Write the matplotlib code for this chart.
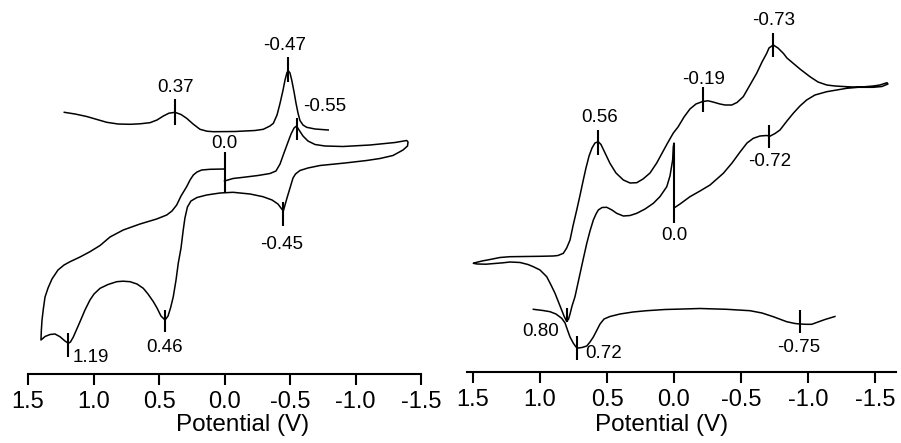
import matplotlib
matplotlib.use("Agg")
import matplotlib.pyplot as plt

plt.rcParams['font.family'] = ['Liberation Sans', 'DejaVu Sans']
plt.rcParams['axes.unicode_minus'] = False

# ---- left panel data: potential (V) / current (arb. units)
left_dpv_E = [1.223, 1.141, 1.052, 0.973, 0.899, 0.813, 0.721, 0.645, 0.569, 0.515,
              0.467, 0.424, 0.378, 0.332, 0.289, 0.240, 0.187, 0.134, 0.085, -0.080,
              -0.233, -0.296, -0.347, -0.373, -0.401, -0.424, -0.447, -0.462, -0.477,
              -0.487, -0.500, -0.513, -0.531, -0.546, -0.561, -0.576, -0.599, -0.627,
              -0.691, -0.792]
left_dpv_I = [261.7, 260, 257.5, 254.5, 251.7, 250, 249.7, 250.2, 251.3, 254,
              258, 260.8, 261.7, 259.5, 255.7, 250, 244.7, 242.8, 242.3, 242.5,
              243.5, 244.7, 248, 250.7, 259, 270.7, 284, 294, 301.5,
              303.3, 301, 294, 282, 270.7, 261, 253.5, 249, 246.7,
              245, 244]

left_cv_E = [0.0, -0.065, -0.144, -0.256, -0.347, -0.393, -0.424, -0.454, -0.485, -0.508,
             -0.531, -0.550, -0.569, -0.599, -0.637, -0.691, -0.767, -0.905, -1.111, -1.302,
             -1.391, -1.401, -1.397, -1.363, -1.286, -1.187, -1.085, -0.920, -0.729, -0.637,
             -0.576, -0.542, -0.523, -0.500, -0.477, -0.462, -0.449, -0.431, -0.408, -0.363,
             -0.294, -0.195, -0.065, 0.034, 0.136, 0.210, 0.256, 0.283, 0.302, 0.315,
             0.332, 0.353, 0.370, 0.391, 0.412, 0.431, 0.454, 0.485, 0.515, 0.543,
             0.584, 0.620, 0.668, 0.721, 0.775, 0.823, 0.889, 0.950, 0.996, 1.027,
             1.065, 1.103, 1.134, 1.154, 1.176, 1.192, 1.218, 1.256, 1.294, 1.332,
             1.370, 1.401, 1.398, 1.393, 1.382, 1.370, 1.347, 1.317, 1.271, 1.225,
             1.179, 1.103, 1.027, 0.950, 0.874, 0.773, 0.645, 0.518, 0.441, 0.401,
             0.365, 0.332, 0.289, 0.263, 0.238, 0.210, 0.174, 0.111, 0.0]
left_cv_I = [193, 195.5, 196.7, 198.5, 200.5, 203, 210, 221, 232, 240,
             246, 248, 244, 238, 233, 229.5, 228, 227.5, 229, 231.5,
             233.5, 232, 228, 224, 218.5, 215.5, 213.5, 211, 208.5, 206,
             203.5, 200, 196, 186, 176, 169, 163, 166, 170, 174,
             177.3, 180, 181.7, 181, 179, 176.5, 173, 167, 156, 144,
             126, 110.7, 94, 77.3, 66, 58, 54, 58, 66, 72.3,
             80, 85.7, 90, 92.3, 92.8, 92.3, 89.5, 85.7, 80, 74,
             64, 52.3, 43, 37, 32, 30.7, 33, 37.3, 40, 39.5,
             37.5, 34, 44, 54, 66, 77, 86, 95, 104, 109,
             112.3, 117, 122.3, 128.5, 137, 144, 150, 155, 159, 163,
             169, 178, 187.3, 194, 199, 202, 204, 204.7, 205]

# ---- right panel data
right_cv_E = [0.0, -0.045, -0.119, -0.194, -0.269, -0.368, -0.433, -0.493, -0.545, -0.592,
              -0.642, -0.692, -0.716, -0.754, -0.791, -0.843, -0.890, -0.940, -0.990, -1.052,
              -1.140, -1.289, -1.487, -1.537, -1.590, -1.597, -1.552, -1.487, -1.388, -1.289,
              -1.201, -1.140, -1.075, -1.015, -0.940, -0.890, -0.843, -0.816, -0.776, -0.741,
              -0.709, -0.692, -0.657, -0.617, -0.567, -0.517, -0.470, -0.431, -0.381, -0.343,
              -0.291, -0.254, -0.214, -0.164, -0.119, -0.075, -0.030, 0.005, 0.052, 0.104,
              0.129, 0.179, 0.231, 0.278, 0.328, 0.378, 0.433, 0.478, 0.515, 0.545,
              0.565, 0.590, 0.612, 0.634, 0.657, 0.677, 0.701, 0.726, 0.754, 0.776,
              0.801, 0.826, 0.866, 0.901, 1.000, 1.112, 1.224, 1.299, 1.373, 1.433,
              1.478, 1.498, 1.470, 1.403, 1.336, 1.276, 1.224, 1.149, 1.090, 1.050,
              1.000, 0.950, 0.918, 0.888, 0.862, 0.838, 0.821, 0.801, 0.787, 0.776,
              0.761, 0.739, 0.720, 0.701, 0.679, 0.651, 0.627, 0.602, 0.582, 0.565,
              0.537, 0.502, 0.463, 0.428, 0.378, 0.328, 0.278, 0.216, 0.154, 0.104,
              0.054, 0.030, 0.010, 0.005, 0.0]
right_cv_I = [164, 168, 175.3, 181, 187, 198.7, 209, 220, 229, 233.7,
              236, 236.5, 235.8, 238.5, 242, 251, 258.7, 266, 272, 277,
              280.3, 283.7, 286, 287, 289.3, 288, 285.5, 284.7, 284.7, 285.3,
              286, 287, 290, 295.3, 303, 308.7, 314, 318.7, 324, 327,
              324, 318.7, 310, 298.7, 287, 275.3, 269.5, 267, 267, 268,
              270, 271.2, 270.5, 268, 263, 255, 245, 239, 228, 215.3,
              209, 199, 193, 189.3, 189, 192, 199, 208.7, 219, 227.5,
              230.3, 229, 224, 216, 204, 192, 177, 162, 146, 132,
              124, 118.7, 116.5, 116, 115.7, 115.5, 115.3, 114.5, 112.5, 111,
              109.5, 108.7, 108, 107.8, 108.5, 109.2, 110, 109.5, 107.5, 105.3,
              102, 95.3, 87, 78.7, 70, 62, 56, 50.5, 53, 58,
              66, 75.3, 87, 98.7, 112, 128.7, 141, 152, 158, 162,
              164.5, 164.7, 162, 158.7, 156, 156.5, 158.7, 163, 168.7, 175.5,
              185.3, 196, 212, 225.3, 228.7]

right_dpv_E = [1.050, 0.978, 0.925, 0.881, 0.838, 0.813, 0.795, 0.776, 0.751, 0.731,
               0.714, 0.687, 0.651, 0.627, 0.602, 0.575, 0.552, 0.522, 0.478, 0.403,
               0.306, 0.204, 0.067, -0.069, -0.194, -0.393, -0.567, -0.657, -0.741, -0.841,
               -0.903, -0.940, -0.985, -1.028, -1.075, -1.127, -1.201]
right_dpv_I = [62.7, 61.5, 60.3, 58, 53.7, 49, 42, 35, 28.7, 25,
               24, 24.5, 26, 30, 35, 42, 48, 53, 55.5, 58,
               60, 61.3, 62.5, 63, 63.5, 62.7, 61.3, 59, 55.3, 50.3,
               48.5, 48, 47.7, 47.7, 50, 52.5, 55.5]

# ---- peak markers: potential, current span, label text
left_mark_E = [0.378, -0.482, -0.557, 0.0, -0.449, 0.454, 1.195]
left_mark_lo = [249, 292.3, 234, 182, 148, 42.3, 16.7]
left_mark_hi = [274.7, 317.3, 256, 222, 172, 64, 41.3]
left_labels = ['0.37', '-0.47', '-0.55', '0.0', '-0.45', '0.46', '1.19']

right_mark_E = [0.569, -0.214, -0.741, -0.711, 0.0, 0.801, 0.722, -0.940]
right_mark_lo = [217, 260.3, 315.3, 223.7, 148.7, 50.3, 12, 38.7]
right_mark_hi = [242, 284.7, 339.3, 247, 228.7, 63.7, 36, 62]
right_labels = ['0.56', '-0.19', '-0.73', '-0.72', '0.0', '0.80', '0.72', '-0.75']

# label anchor positions (E, I, horizontal alignment)
left_lab_pos = [(0.370, 286.7, 'center'), (-0.456, 329, 'center'), (-0.597, 267.3, 'left'),
                (0.0, 230.3, 'center'), (-0.437, 130, 'center'), (0.454, 26, 'center'),
                (1.159, 16, 'left')]
right_lab_pos = [(0.552, 254.7, 'center'), (-0.219, 292, 'center'), (-0.746, 351.3, 'center'),
                 (-0.716, 210.3, 'center'), (0.0, 137, 'center'), (0.856, 40.3, 'right'),
                 (0.664, 18.7, 'left'), (-0.928, 24.3, 'center')]

ticks = [1.5, 1.0, 0.5, 0.0, -0.5, -1.0, -1.5]
tick_labels = ['1.5', '1.0', '0.5', '0.0', '-0.5', '-1.0', '-1.5']

W, H = 901, 443
fig = plt.figure(figsize=(W / 100, H / 100), dpi=100)
ax1 = fig.add_axes([28 / W, 69 / H, 393 / W, 374 / H])
ax2 = fig.add_axes([467 / W, 71 / H, 429 / W, 372 / H])


def style(ax, xlim, ylim, lab_x, lab_y):
    ax.set_xlim(*xlim)
    ax.set_ylim(*ylim)
    for s in ['top', 'left', 'right']:
        ax.spines[s].set_visible(False)
    ax.spines['bottom'].set_linewidth(1.5)
    ax.set_yticks([])
    ax.set_xticks(ticks)
    ax.set_xticklabels(tick_labels)
    ax.tick_params(axis='x', direction='out', length=8, width=1.5,
                   labelsize=17, pad=4.5)
    ax.set_xlabel('Potential (V)', fontsize=17.5)
    ax.xaxis.set_label_coords(lab_x, lab_y)
    ax.patch.set_visible(False)


def marks(ax, E, lo, hi, labels, pos):
    ax.vlines(E, lo, hi, color='black', lw=1.5)
    for t, (x, y, ha) in zip(labels, pos):
        ax.text(x, y, t, ha=ha, va='center', fontsize=13.5)


ax1.plot(left_dpv_E, left_dpv_I, color='black', lw=1.1)
ax1.plot(left_cv_E, left_cv_I, color='black', lw=1.1)
marks(ax1, left_mark_E, left_mark_lo, left_mark_hi, left_labels, left_lab_pos)
style(ax1, (1.5, -1.5), (0, 374), 0.546, -0.108)

ax2.plot(right_cv_E, right_cv_I, color='black', lw=1.1)
ax2.plot(right_dpv_E, right_dpv_I, color='black', lw=1.1)
marks(ax2, right_mark_E, right_mark_lo, right_mark_hi, right_labels, right_lab_pos)
style(ax2, (1.545, -1.657), (0, 372), 0.454, -0.114)

fig.savefig('out.png', dpi=100)
